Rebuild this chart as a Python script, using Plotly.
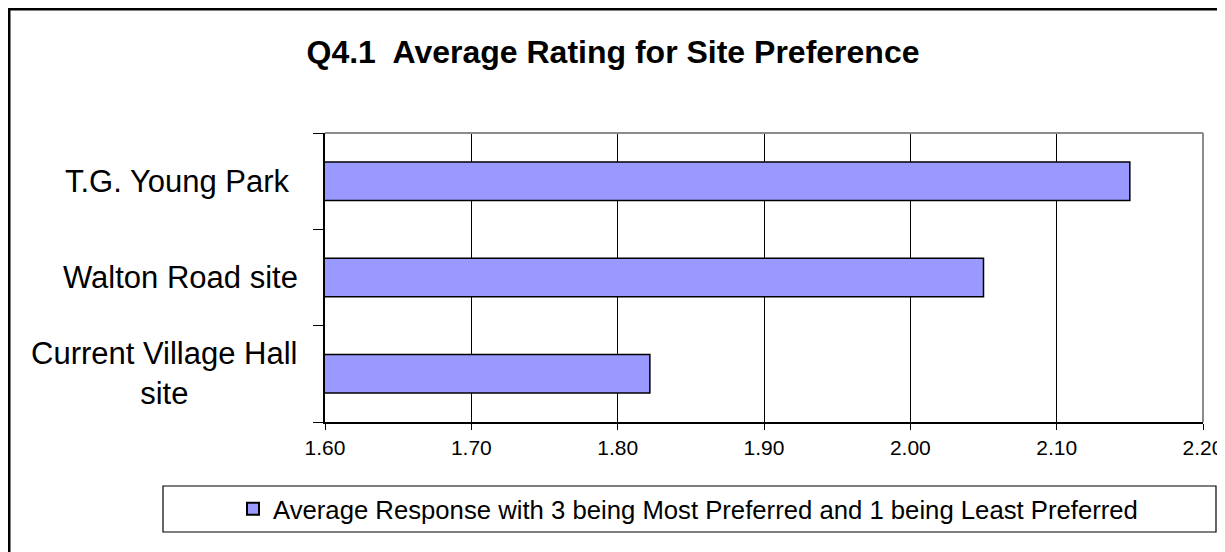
import plotly.graph_objects as go

# survey results (bottom to top as drawn)
sites = ["Current Village Hall site", "Walton Road site", "T.G. Young Park"]
site_labels = ["Current Village Hall<br>site", "Walton Road site", "T.G. Young Park&nbsp;"]
avg_rating = [1.822, 2.05, 2.15]
x_ticks = [1.6, 1.7, 1.8, 1.9, 2.0, 2.1, 2.2]
series_name = "Average Response with 3 being Most Preferred and 1 being Least Preferred"

FONT = "Liberation Sans, Arial, sans-serif"

# page offset (body margin) and plot area in screen pixels
OFF = 8
L, R, T, B = 325, 1203, 133, 422
W, H = 1225 - OFF, 552 - OFF
pw, ph = R - L, B - T


def px_x(px):
    return (px - L) / pw


def px_y(py):
    return (B - py) / ph


fig = go.Figure()
fig.add_trace(go.Bar(
    y=sites,
    x=avg_rating,
    orientation="h",
    width=0.4,
    marker=dict(color="#9999FF", line=dict(color="black", width=1.5)),
    name=series_name,
    showlegend=True,
))

# y labels: right aligned, multi-line text centred
for s, lab in zip(sites, site_labels):
    fig.add_annotation(
        x=px_x(300), xref="paper", y=s, yref="y",
        text=lab, showarrow=False, xanchor="right", yanchor="middle",
        align="center", font=dict(family=FONT, size=31, color="black"),
    )

shapes = [
    # outer chart border (left/top thick, right edge thin)
    dict(type="line", xref="paper", yref="paper",
         x0=px_x(9), x1=px_x(9), y0=px_y(560), y1=px_y(9),
         line=dict(color="black", width=3), layer="above"),
    dict(type="line", xref="paper", yref="paper",
         x0=px_x(8), x1=px_x(1225), y0=px_y(9), y1=px_y(9),
         line=dict(color="black", width=3), layer="above"),
    dict(type="line", xref="paper", yref="paper",
         x0=px_x(1224), x1=px_x(1224), y0=px_y(560), y1=px_y(9),
         line=dict(color="#444444", width=1), layer="below"),
    # legend box
    dict(type="rect", xref="paper", yref="paper",
         x0=px_x(163), x1=px_x(1216), y0=px_y(532), y1=px_y(486),
         line=dict(color="black", width=1.2)),
    # plot area top / right edges (gray)
    dict(type="line", xref="paper", yref="paper", x0=0, x1=1, y0=1, y1=1,
         line=dict(color="#8c8c8c", width=2), layer="above"),
    dict(type="line", xref="paper", yref="paper", x0=1, x1=1, y0=0, y1=1,
         line=dict(color="#8c8c8c", width=2), layer="above"),
]

fig.update_layout(
    width=W, height=H,
    margin=dict(l=L - OFF, r=W - (R - OFF), t=T - OFF, b=H - (B - OFF),
                autoexpand=False),
    paper_bgcolor="white", plot_bgcolor="white",
    font=dict(family=FONT, color="black"),
    title=dict(
        text="<b>Q4.1  Average Rating for Site Preference</b>",
        x=(613 - OFF) / W, xref="container", xanchor="center",
        y=1 - (52 - OFF) / H, yref="container", yanchor="middle",
        font=dict(family=FONT, size=32, color="black"),
    ),
    xaxis=dict(
        range=[1.6, 2.2], tickvals=x_ticks, tickformat=".2f",
        showgrid=True, gridcolor="black", gridwidth=1,
        showline=True, linecolor="black", linewidth=1.5,
        ticks="outside", ticklen=6, tickcolor="black",
        tickfont=dict(family=FONT, size=21, color="black"),
        zeroline=False, fixedrange=True,
    ),
    yaxis=dict(
        categoryorder="array", categoryarray=sites,
        showticklabels=False, showgrid=False,
        showline=True, linecolor="black", linewidth=2,
        ticks="outside", tickson="boundaries", ticklen=10, tickcolor="black",
        zeroline=False, fixedrange=True,
    ),
    legend=dict(
        orientation="h", x=px_x(233), xanchor="left",
        y=px_y(509), yanchor="middle",
        font=dict(family=FONT, size=25.7, color="black"),
        bgcolor="rgba(0,0,0,0)", itemsizing="constant",
    ),
    shapes=shapes,
    bargap=0.6,
)

# hide page scrollbars so the right edge is not covered
fig.write_html("out.html", post_script="document.documentElement.style.overflow='hidden';")
